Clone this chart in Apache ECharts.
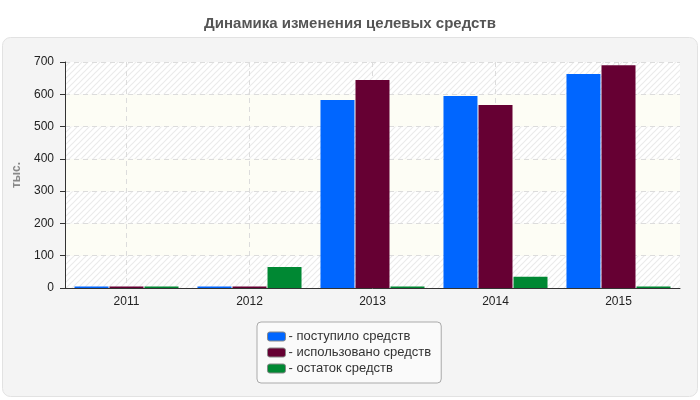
<!DOCTYPE html>
<html><head><meta charset="utf-8">
<script src="https://cdn.jsdelivr.net/npm/echarts@6/dist/echarts.min.js"></script>
<style>html,body{margin:0;padding:0;background:#fff}#c{width:700px;height:400px}</style>
</head><body><div id="c"></div>
<script>
var categories = ['2011', '2012', '2013', '2014', '2015'];
var received = [5, 5, 582, 595, 663];
var used = [5, 5, 644, 567, 690];
var balance = [5, 65, 5, 35, 5];
var seriesNames = ['- поступило средств', '- использовано средств', '- остаток средств'];
var titleText = 'Динамика изменения целевых средств';
var yName = 'тыс.';

function hatch() {
  var c = document.createElement('canvas');
  c.width = 6; c.height = 6;
  var g = c.getContext('2d');
  g.fillStyle = '#ffffff'; g.fillRect(0, 0, 6, 6);
  g.strokeStyle = '#ebebeb'; g.lineWidth = 1.2;
  g.beginPath();
  g.moveTo(0, 6); g.lineTo(6, 0);
  g.moveTo(-3, 3); g.lineTo(3, -3);
  g.moveTo(3, 9); g.lineTo(9, 3);
  g.stroke();
  return c;
}
var chart = echarts.init(document.getElementById('c'));
var font = 'Liberation Sans, Arial, sans-serif';
chart.setOption({
  animation: false,
  textStyle: { fontFamily: font },
  graphic: [{
    type: 'rect', left: 2, top: 37, z: -10,
    shape: { width: 695, height: 359, r: 8 },
    style: { fill: '#f4f4f4', stroke: '#e2e2e2', lineWidth: 1 }
  }],
  title: {
    text: titleText, left: 'center', top: 11,
    textStyle: { fontSize: 15, fontWeight: 'bold', color: '#555', fontFamily: font }
  },
  grid: { left: 65, right: 20, top: 62, bottom: 112 },
  legend: {
    orient: 'vertical', left: 257, top: 322,
    padding: [8, 10, 8, 10],
    itemGap: 3, itemWidth: 18, itemHeight: 9,
    icon: 'roundRect',
    backgroundColor: '#fafafa', borderColor: '#aaa', borderWidth: 1, borderRadius: 4,
    itemStyle: { borderColor: '#888', borderWidth: 1 },
    textStyle: { fontSize: 13, color: '#333', padding: [0, 0, 0, -2] },
    data: seriesNames
  },
  xAxis: {
    type: 'category', data: categories,
    axisLine: { lineStyle: { color: '#333' } },
    axisTick: { alignWithLabel: true, length: 4, lineStyle: { color: '#333' } },
    axisLabel: { fontSize: 12, color: '#222', margin: 8 },
    splitLine: { show: true, alignWithLabel: true, lineStyle: { color: '#dcdcdc', type: [5, 4] } }
  },
  yAxis: {
    type: 'value', min: 0, max: 700, interval: 100,
    name: yName, nameLocation: 'middle', nameGap: 39, nameRotate: 90,
    nameTextStyle: { fontSize: 12, fontWeight: 'bold', color: '#888' },
    axisLine: { show: true, lineStyle: { color: '#333' } },
    axisTick: { show: true, length: 5, lineStyle: { color: '#333' } },
    axisLabel: { fontSize: 12, color: '#222', margin: 11 },
    splitLine: { lineStyle: { color: '#dcdcdc', type: [5, 4] } },
    splitArea: { show: true, areaStyle: { color: [{ image: hatch(), repeat: 'repeat' }, '#fdfdf5'] } }
  },
  series: [
    { name: seriesNames[0], type: 'bar', data: received, barWidth: 34, barGap: '3%',
      itemStyle: { color: '#0066ff' } },
    { name: seriesNames[1], type: 'bar', data: used, barWidth: 34, barGap: '3%',
      itemStyle: { color: '#660033' } },
    { name: seriesNames[2], type: 'bar', data: balance, barWidth: 34, barGap: '3%',
      itemStyle: { color: '#008833' } }
  ]
});
</script></body></html>
